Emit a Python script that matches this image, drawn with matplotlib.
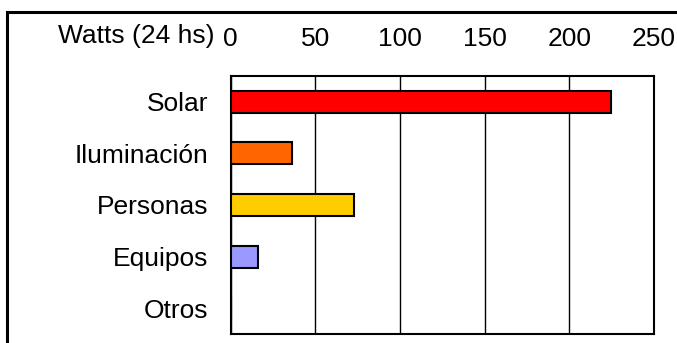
import matplotlib.pyplot as plt
from matplotlib.patches import Rectangle

# data
categories = ["Solar", "Iluminación", "Personas", "Equipos", "Otros"]
watts = [224.4, 36.3, 72.9, 16.2, 0]
bar_colors = ["#FF0000", "#FF6600", "#FFCC00", "#9999FF", "#FFFFFF"]
x_ticks = [0, 50, 100, 150, 200, 250]

plt.rcParams['font.family'] = ['Liberation Sans', 'DejaVu Sans']

fig = plt.figure(figsize=(6.77, 3.43), dpi=100)
ax = fig.add_axes([230.5 / 677, 9 / 343, 423.5 / 677, 258 / 343])

ypos = list(range(len(categories)))
ax.barh(ypos, watts, height=0.43, color=bar_colors, edgecolor="black",
        linewidth=1.5, zorder=3)

ax.set_xlim(0, 250)
ax.set_ylim(len(categories) - 0.5, -0.5)
ax.set_xticks(x_ticks)
ax.set_yticks(ypos)
ax.set_yticklabels(categories)
ax.xaxis.tick_top()
ax.tick_params(axis="x", length=0, pad=18, labelsize=19)
ax.tick_params(axis="y", length=0, pad=16, labelsize=19)
for lbl in ax.get_xticklabels():
    lbl.set_clip_on(False)
ax.grid(axis="x", color="black", linewidth=1, zorder=0)
for sp in ax.spines.values():
    sp.set_linewidth(1.5)

fig.text(215 / 677, 1 - 43 / 343, "Watts (24 hs)", ha="right", va="baseline",
         fontsize=19)

# outer chart frame, running off the right and bottom edges
frame = Rectangle((6.5 / 677, -0.2), 1.2, 1 - 12 / 343 + 0.2,
                  transform=fig.transFigure, fill=False, edgecolor="black",
                  linewidth=2.2)
fig.patches.append(frame)

fig.savefig("out.png", dpi=100)
